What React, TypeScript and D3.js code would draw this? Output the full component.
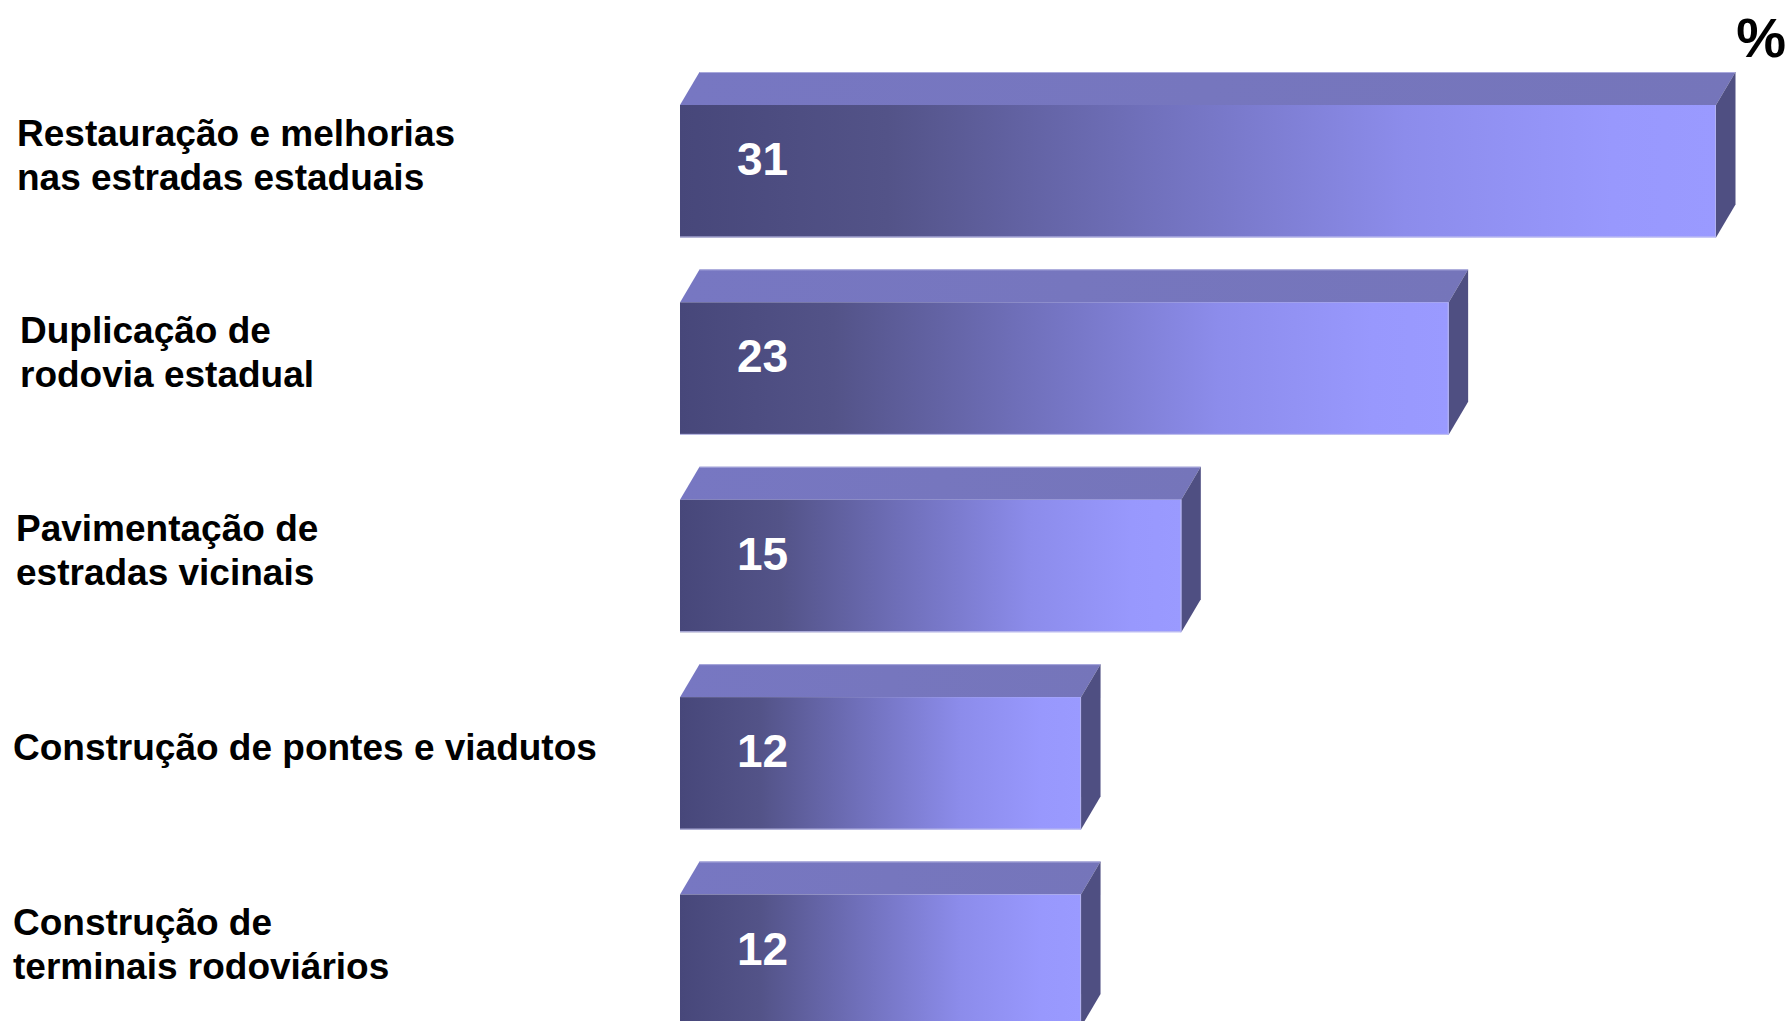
import React from "react";
import * as d3 from "d3";

const categories = [
  "Restauração e melhorias nas estradas estaduais",
  "Duplicação de rodovia estadual",
  "Pavimentação de estradas vicinais",
  "Construção de pontes e viadutos",
  "Construção de terminais rodoviários",
];
const labelLines = [
  ["Restauração e melhorias", "nas estradas estaduais"],
  ["Duplicação de", "rodovia estadual"],
  ["Pavimentação de", "estradas vicinais"],
  ["Construção de pontes e viadutos"],
  ["Construção de", "terminais rodoviários"],
];
const values = [31, 23, 15, 12, 12];
const unitLabel = "%";

const W = 1787;
const H = 1021;
const DX = 19.5;
const DY = 33;
const labelIndent = [4, 7, 3, 0, 0];

export default function App() {
  const x = d3.scaleLinear().domain([0, 31]).range([680, 1716]);
  const y = d3
    .scaleBand<string>()
    .domain(categories)
    .range([72, 1027])
    .paddingInner(32 / 198)
    .paddingOuter(0);
  const bw = y.bandwidth();
  const lineGap = 44;

  return (
    <svg
      width={W}
      height={H}
      style={{ position: "absolute", left: 0, top: 0, background: "#fff" }}
      fontFamily="'Liberation Sans', Arial, Helvetica, sans-serif"
    >
      <defs>
        <linearGradient id="front" x1="0" x2="1" y1="0" y2="0">
          <stop offset="0" stopColor="#47477a" />
          <stop offset="0.2" stopColor="#535388" />
          <stop offset="0.45" stopColor="#7070bb" />
          <stop offset="0.7" stopColor="#8c8ceb" />
          <stop offset="0.9" stopColor="#9898fd" />
          <stop offset="1" stopColor="#9a9aff" />
        </linearGradient>
        <linearGradient id="top" x1="0" x2="1" y1="0" y2="0">
          <stop offset="0" stopColor="#7777c2" />
          <stop offset="1" stopColor="#7575ba" />
        </linearGradient>
      </defs>
      <rect x={0} y={0} width={W} height={H} fill="#fff" />
      {categories.map((c, i) => {
        const top = y(c)!;
        const fy = top + DY;
        const by = top + bw;
        const x0 = x(0);
        const x1 = x(values[i]);
        const mid = top + bw / 2;
        const lines = labelLines[i];
        const n = lines.length;
        return (
          <g key={c}>
            <polygon
              points={`${x0},${fy} ${x0 + DX},${top} ${x1 + DX},${top} ${x1},${fy}`}
              fill="url(#top)"
            />
            <line x1={x0 + DX} x2={x1 + DX} y1={top + 0.5} y2={top + 0.5} stroke="#a8a8dc" strokeWidth={1} />
            <polygon
              points={`${x1},${fy} ${x1 + DX},${top} ${x1 + DX},${by - DY} ${x1},${by}`}
              fill="#4f4f82"
            />
            <rect x={x0} y={fy} width={x1 - x0} height={by - fy} fill="url(#front)" />
            <line x1={x0} x2={x1} y1={by - 0.5} y2={by - 0.5} stroke="#c4c4ee" strokeWidth={1} />
            <line x1={x1 - 0.5} x2={x1 - 0.5} y1={fy} y2={by} stroke="#b0b0f0" strokeWidth={1} />
            <text
              x={x0 + 57}
              y={fy + 70}
              fill="#fff"
              fontSize={46}
              fontWeight="bold"
            >
              {values[i]}
            </text>
            <text fontSize={37} fontWeight="bold" fill="#000">
              {lines.map((ln, j) => (
                <tspan
                  key={j}
                  x={13 + labelIndent[i]}
                  y={mid + (j - (n - 1) / 2) * lineGap + 13}
                >
                  {ln}
                </tspan>
              ))}
            </text>
          </g>
        );
      })}
      <text x={1786} y={57} textAnchor="end" fontSize={56} fontWeight="bold" fill="#000">
        {unitLabel}
      </text>
    </svg>
  );
}
